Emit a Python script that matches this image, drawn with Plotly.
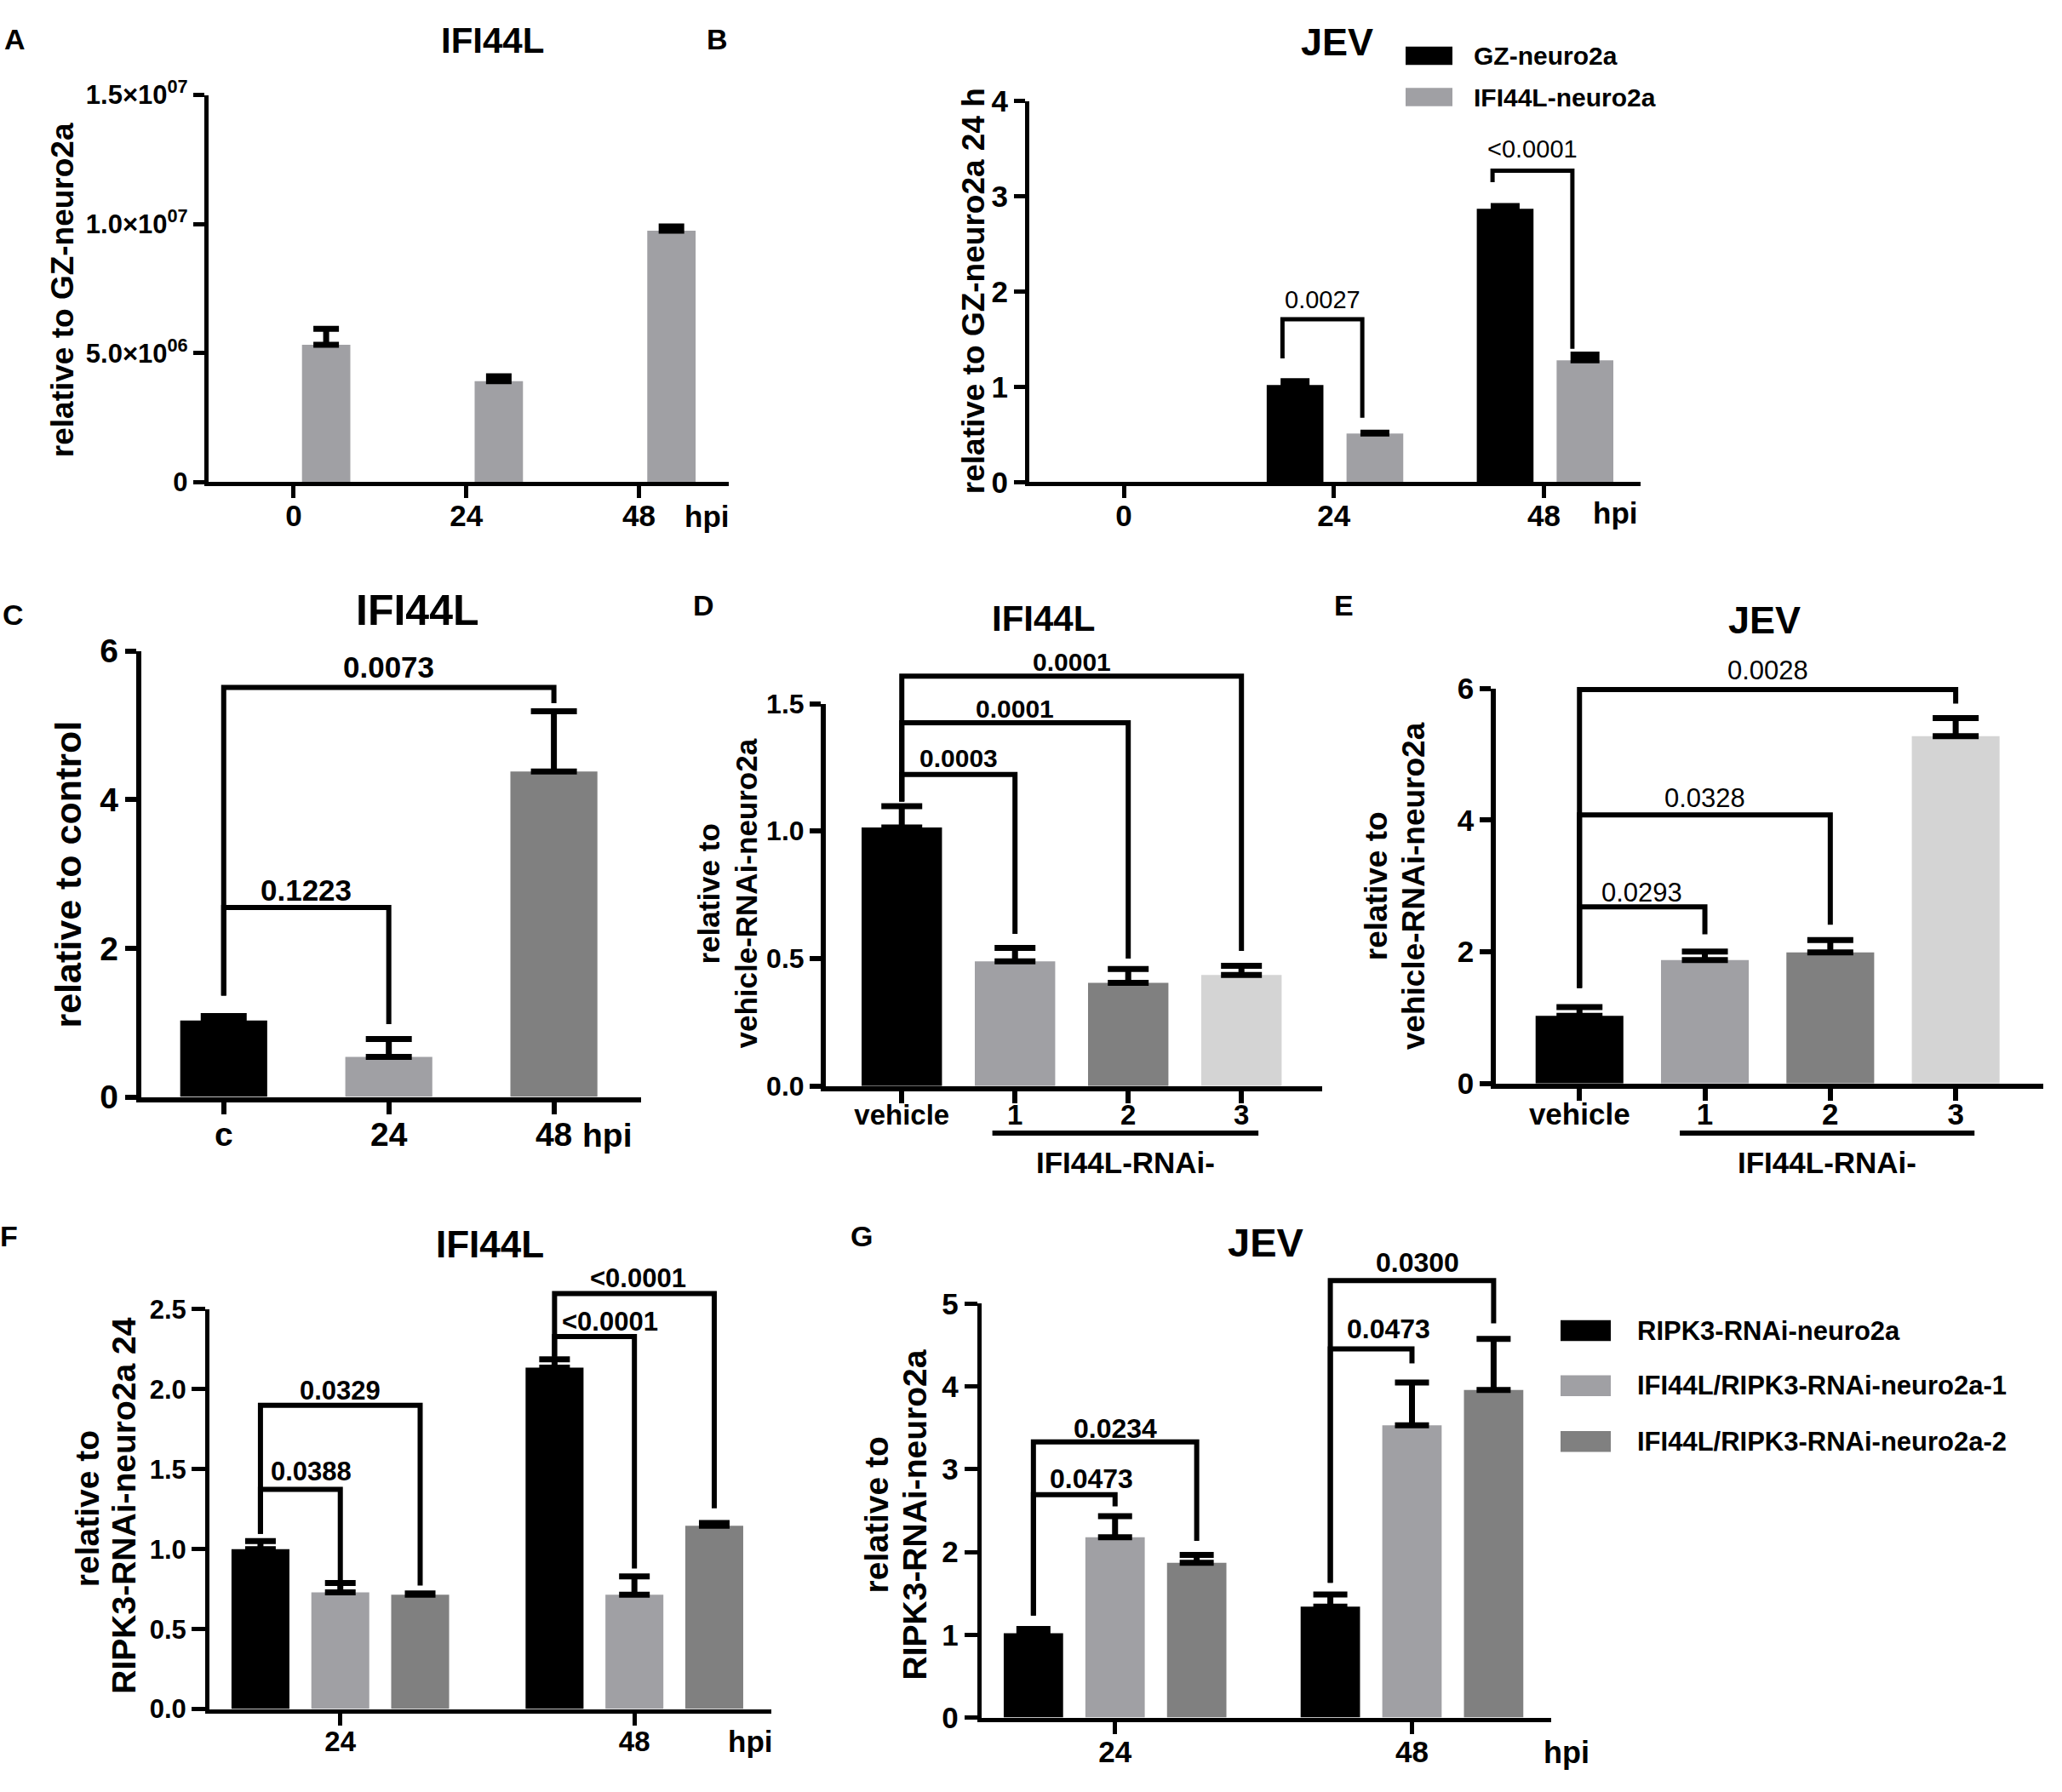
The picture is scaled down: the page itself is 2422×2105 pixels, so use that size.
import plotly.graph_objects as go

W, H = 2422, 2105
FONT = "Liberation Sans, Arial, sans-serif"

BLACK = "#000000"
GRAY = "#a0a0a4"
DARK = "#808080"
LIGHT = "#d4d4d4"

# ---------------- data ----------------
# A: IFI44L in IFI44L-neuro2a relative to GZ-neuro2a
a_hpi = ["0", "24", "48"]
a_ifi44l = [5.32e6, 3.91e6, 9.74e6]
a_ifi44l_sem = [0.62e6, 0.19e6, 0.17e6]
a_yticks = [0, 5e6, 1e7, 1.5e7]
a_yticklabels = ["0", "5.0×10<sup>06</sup>", "1.0×10<sup>07</sup>", "1.5×10<sup>07</sup>"]

# B: JEV, GZ vs IFI44L overexpression (no bars at 0 hpi)
b_hpi = ["0", "24", "48"]
b_names = ["GZ-neuro2a", "IFI44L-neuro2a"]
b_gz = [None, 1.02, 2.87]
b_gz_sem = [None, 0.04, 0.03]
b_ifi44l = [None, 0.51, 1.28]
b_ifi44l_sem = [None, 0.01, 0.06]
b_yticks = [0, 1, 2, 3, 4]
# significance: (category, series a, series b, bracket y, end a, end b, p value, text y)
b_sig = [(1, 0, 1, 1.71, 1.30, 0.675, "0.0027", 1.92),
         (2, 0, 1, 3.27, 3.15, 1.40, "<0.0001", 3.50)]

# C: IFI44L after JEV infection
c_groups = ["c", "24", "48"]
c_ifi44l = [1.03, 0.54, 4.38]
c_ifi44l_sem = [0.06, 0.24, 0.81]
c_yticks = [0, 2, 4, 6]
# significance: (bar a, bar b, bracket y, end a, end b, p value, text y)
c_sig = [(0, 1, 2.55, 1.365, 0.98, "0.1223", 2.78),
         (0, 2, 5.51, 1.365, 5.30, "0.0073", 5.79)]

# D: IFI44L knockdown
d_groups = ["vehicle", "1", "2", "3"]
d_ifi44l = [1.014, 0.489, 0.405, 0.436]
d_ifi44l_sem = [0.084, 0.053, 0.054, 0.036]
d_yticks = [0, 0.5, 1.0, 1.5]
d_yticklabels = ["0.0", "0.5", "1.0", "1.5"]
d_sig = [(0, 1, 1.222, 1.116, 0.597, "0.0003", 1.287),
         (0, 2, 1.425, 1.116, 0.50, "0.0001", 1.480),
         (0, 3, 1.608, 1.116, 0.53, "0.0001", 1.665)]

# E: JEV after IFI44L knockdown
e_groups = ["vehicle", "1", "2", "3"]
e_jev = [1.028, 1.876, 1.992, 5.274]
e_jev_sem = [0.134, 0.128, 0.186, 0.273]
e_yticks = [0, 2, 4, 6]
e_sig = [(0, 1, 2.683, 1.452, 2.265, "0.0293", 2.904),
         (0, 2, 4.077, 1.452, 2.41, "0.0328", 4.339),
         (0, 3, 5.982, 1.452, 5.767, "0.0028", 6.273)]

# F / G: RIPK3 knockdown background
fg_hpi = ["24", "48"]
fg_names = ["RIPK3-RNAi-neuro2a", "IFI44L/RIPK3-RNAi-neuro2a-1", "IFI44L/RIPK3-RNAi-neuro2a-2"]
f_values = [[1.00, 2.135], [0.73, 0.715], [0.715, 1.146]]
f_sem = [[0.05, 0.052], [0.058, 0.114], [0.008, 0.018]]
f_yticks = [0, 0.5, 1.0, 1.5, 2.0, 2.5]
f_yticklabels = ["0.0", "0.5", "1.0", "1.5", "2.0", "2.5"]
f_sig = [(0, 0, 1, 1.374, 1.096, 0.80, "0.0388", 1.484),
         (0, 0, 2, 1.900, 1.096, 0.772, "0.0329", 1.990),
         (1, 0, 1, 2.329, 2.203, 0.879, "<0.0001", 2.42),
         (1, 0, 2, 2.598, 2.203, 1.256, "<0.0001", 2.694)]
f_label_dx = [13, 0, 18, 4]

g_values = [[1.02, 1.341], [2.177, 3.531], [1.869, 3.958]]
g_sem = [[0.049, 0.145], [0.255, 0.515], [0.097, 0.615]]
g_yticks = [0, 1, 2, 3, 4, 5]
g_sig = [(0, 0, 1, 2.691, 1.231, 2.55, "0.0473", 2.88),
         (0, 0, 2, 3.329, 1.231, 2.133, "0.0234", 3.487),
         (1, 0, 1, 4.454, 1.627, 4.277, "0.0473", 4.696),
         (1, 0, 2, 5.277, 1.627, 4.76, "0.0300", 5.50)]
g_label_dx = [20, 0, 20, 7]

# ---------------- geometry (pixels of the 2422x2105 page) ----------------
GEOM = {
    "A": dict(n=1, left=244.8, right=856.0, base=556.0, ppu=(556.0 - 91.5) / 1.5e7, ytop=1.5e7,
              xr=(-0.494, 2.52), width=0.28, centers=[0.188], leg=0),
    "B": dict(n=2, left=1209.0, right=1926.6, base=556.0, ppu=(556.0 - 98.9) / 4, ytop=4,
              xr=(-0.45, 2.458), width=0.27, centers=[-0.185, 0.195], leg=-0.06),
    "C": dict(n=3, left=165.8, right=752.6, base=1293.6, ppu=(1293.6 - 758.7) / 6, ytop=6,
              xr=(-0.5, 2.526), width=0.527, centers=[0], leg=0),
    "D": dict(n=4, left=970.0, right=1552.6, base=1280.5, ppu=(1280.5 - 821.7) / 1.5, ytop=1.5,
              xr=(-0.671, 3.71), width=0.71, centers=[0], leg=0),
    "E": dict(n=5, left=1757.3, right=2399.5, base=1277.5, ppu=(1277.5 - 803.3) / 6, ytop=6,
              xr=(-0.665, 3.695), width=0.70, centers=[0], leg=0),
    "F": dict(n=6, left=246.0, right=905.8, base=2028.0, ppu=(2028.0 - 1548.3) / 2.5, ytop=2.5,
              xr=(-0.445, 1.465), width=0.197, centers=[-0.2715, 0, 0.2715], leg=0),
    "G": dict(n=7, left=1152.8, right=1822.4, base=2038.2, ppu=(2038.2 - 1541.5) / 5, ytop=5,
              xr=(-0.45, 1.47), width=0.20, centers=[-0.275, 0, 0.275], leg=0),
}


def xp(g, x):
    x0, x1 = g["xr"]
    return (g["left"] + (x - x0) / (x1 - x0) * (g["right"] - g["left"])) / W


def yp(g, y):
    return 1 - (g["base"] - y * g["ppu"]) / H


def px(x):
    return x / W


def py(y):
    return 1 - y / H


def bold(size):
    return dict(family=FONT, size=size, color="black", weight="bold")


def plain(size):
    return dict(family=FONT, size=size, color="black")


fig = go.Figure()
shapes = []
annotations = []


def ax_ids(g):
    s = "" if g["n"] == 1 else str(g["n"])
    return "x" + s, "y" + s


def errbar(sem, cap, thick):
    return dict(type="data", array=sem, arrayminus=[0] * len(sem), symmetric=False,
                color="black", thickness=thick, width=cap)


def add_bar(g, cats, vals, sem, series, color, cap, thick=7, name=None):
    xa, ya = ax_ids(g)
    fig.add_trace(go.Bar(
        x=cats, y=vals, name=name, xaxis=xa, yaxis=ya,
        width=g["width"], offset=g["centers"][series] - g["width"] / 2,
        marker=dict(color=color, line=dict(width=0)),
        error_y=errbar(sem, cap, thick), showlegend=False,
    ))


def setup_axes(g, cats, yticks, yticktext, xsize, ysize, lw=5, standoff=-9, yticklen=13):
    xa, ya = ax_ids(g)
    common = dict(showline=True, linewidth=lw, linecolor="black", ticks="outside",
                  tickwidth=lw, tickcolor="black", showgrid=False, zeroline=False)
    fig.layout["xaxis" + xa[1:]] = dict(
        domain=[g["left"] / W, g["right"] / W], anchor=ya, type="category",
        categoryorder="array", categoryarray=cats, range=list(g["xr"]),
        ticklen=14, ticklabelstandoff=standoff, tickfont=bold(xsize), **common)
    fig.layout["yaxis" + ya[1:]] = dict(
        domain=[1 - g["base"] / H, 1 - (g["base"] - g["ytop"] * g["ppu"]) / H],
        anchor=xa, range=[0, g["ytop"]], tickvals=yticks, ticktext=yticktext,
        ticklen=yticklen, tickfont=bold(ysize), **common)


def add_brackets(g, items, font, dx=None, lw=6):
    # items: (category a, series a, category b, series b, bracket y, end a, end b, label, label y)
    for k, (ca, sa, cb, sb, top, ea, eb, label, ty) in enumerate(items):
        x1 = xp(g, ca + g["centers"][sa] + g["leg"])
        x2 = xp(g, cb + g["centers"][sb] + g["leg"])
        path = "M {:.5f},{:.5f} L {:.5f},{:.5f} L {:.5f},{:.5f} L {:.5f},{:.5f}".format(
            x1, yp(g, ea), x1, yp(g, top), x2, yp(g, top), x2, yp(g, eb))
        shapes.append(dict(type="path", xref="paper", yref="paper", path=path,
                           line=dict(color="black", width=lw)))
        annotations.append(dict(xref="paper", yref="paper", x=(x1 + x2) / 2, y=yp(g, ty),
                                xshift=dx[k] if dx else 0,
                                text=label, showarrow=False, font=font,
                                xanchor="center", yanchor="middle"))


def grouped(sig):
    return [(c, sa, c, sb, t, ea, eb, s, ty) for c, sa, sb, t, ea, eb, s, ty in sig]


def single(sig):
    return [(a, 0, b, 0, t, ea, eb, s, ty) for a, b, t, ea, eb, s, ty in sig]


def text(x, y, s, font, angle=0, xanchor="center"):
    annotations.append(dict(xref="paper", yref="paper", x=px(x), y=py(y), text=s,
                            showarrow=False, font=font, textangle=angle,
                            xanchor=xanchor, yanchor="middle"))


# ---------------- panel A ----------------
gA = GEOM["A"]
add_bar(gA, a_hpi, a_ifi44l, a_ifi44l_sem, 0, GRAY, 15)
setup_axes(gA, a_hpi, a_yticks, a_yticklabels, 35, 31)
text(17, 25, "A", bold(34))
text(578, 26, "IFI44L", bold(42))
text(830, 597, "hpi", bold(35))
text(73, 326, "relative to GZ-neuro2a", bold(37), angle=-90)

# ---------------- panel B ----------------
gB = GEOM["B"]
add_bar(gB, b_hpi, b_gz, b_gz_sem, 0, BLACK, 17, name=b_names[0])
add_bar(gB, b_hpi, b_ifi44l, b_ifi44l_sem, 1, GRAY, 17, name=b_names[1])
setup_axes(gB, b_hpi, b_yticks, [str(v) for v in b_yticks], 35, 35)
add_brackets(gB, grouped(b_sig), plain(29), lw=5)
text(842, 25, "B", bold(34))
text(1570, 28, "JEV", bold(45))
text(1897, 593, "hpi", bold(35))
text(1143, 327, "relative to GZ-neuro2a 24 h", bold(37), angle=-90)
for i, (nm, col) in enumerate(zip(b_names, [BLACK, GRAY])):
    yc = [44.5, 94.0][i]
    shapes.append(dict(type="rect", xref="paper", yref="paper", x0=px(1651), x1=px(1706),
                       y0=py(yc + 11), y1=py(yc - 11), fillcolor=col, line=dict(width=0)))
    text(1728.6, yc, nm, bold(30), xanchor="left")

# ---------------- panel C ----------------
gC = GEOM["C"]
add_bar(gC, c_groups, c_ifi44l, c_ifi44l_sem, 0, [BLACK, GRAY, DARK], 27)
setup_axes(gC, c_groups, c_yticks, [str(v) for v in c_yticks], 39, 39, lw=6)
add_brackets(gC, single(c_sig), bold(35))
text(15, 715, "C", bold(34))
text(490, 710, "IFI44L", bold(50))
text(713, 1339, "hpi", bold(39))
text(80, 1027, "relative to control", bold(43), angle=-90)

# ---------------- panel D ----------------
gD = GEOM["D"]
add_bar(gD, d_groups, d_ifi44l, d_ifi44l_sem, 0, [BLACK, GRAY, DARK, LIGHT], 24)
setup_axes(gD, d_groups, d_yticks, d_yticklabels, 33, 32, lw=6, standoff=-14)
add_brackets(gD, single(d_sig), bold(30))
text(826, 704, "D", bold(34))
text(1225, 720, "IFI44L", bold(42))
text(832.5, 1050, "relative to", bold(35), angle=-90)
text(876.5, 1050, "vehicle-RNAi-neuro2a", bold(35), angle=-90)

# ---------------- panel E ----------------
gE = GEOM["E"]
add_bar(gE, e_groups, e_jev, e_jev_sem, 0, [BLACK, GRAY, DARK, LIGHT], 27)
setup_axes(gE, e_groups, e_yticks, [str(v) for v in e_yticks], 35, 35, lw=6, standoff=-14)
add_brackets(gE, single(e_sig), plain(31))
text(1578, 704, "E", bold(34))
text(2072, 722, "JEV", bold(45))
text(1616, 1041, "relative to", bold(37), angle=-90)
text(1660, 1041, "vehicle-RNAi-neuro2a", bold(37), angle=-90)

# group underline for knockdown lines (D and E)
for g in (gD, gE):
    x1, x2 = xp(g, 0.8), xp(g, 3.15)
    shapes.append(dict(type="line", xref="paper", yref="paper", x0=x1, x1=x2,
                       y0=py(1337), y1=py(1337), line=dict(color="black", width=6)))
    annotations.append(dict(xref="paper", yref="paper", x=(x1 + x2) / 2, y=py(1372),
                            text="IFI44L-RNAi-", showarrow=False, font=bold(35),
                            xanchor="center", yanchor="middle"))

# ---------------- panel F ----------------
gF = GEOM["F"]
for s, col in enumerate([BLACK, GRAY, DARK]):
    add_bar(gF, fg_hpi, f_values[s], f_sem[s], s, col, 18, name=fg_names[s])
setup_axes(gF, fg_hpi, f_yticks, f_yticklabels, 33, 31, yticklen=16)
add_brackets(gF, grouped(f_sig), bold(31), dx=f_label_dx)
text(10, 1461, "F", bold(34))
text(575, 1470, "IFI44L", bold(44))
text(881, 2067, "hpi", bold(35))
text(102.5, 1788, "relative to", bold(39), angle=-90)
text(146, 1784, "RIPK3-RNAi-neuro2a 24", bold(39), angle=-90)

# ---------------- panel G ----------------
gG = GEOM["G"]
for s, col in enumerate([BLACK, GRAY, DARK]):
    add_bar(gG, fg_hpi, g_values[s], g_sem[s], s, col, 20, name=fg_names[s])
setup_axes(gG, fg_hpi, g_yticks, [str(v) for v in g_yticks], 35, 35, yticklen=15)
add_brackets(gG, grouped(g_sig), bold(32), dx=g_label_dx)
text(1012, 1461, "G", bold(34))
text(1486, 1468, "JEV", bold(47))
text(1840, 2080, "hpi", bold(36))
text(1029, 1795, "relative to", bold(39), angle=-90)
text(1074, 1795, "RIPK3-RNAi-neuro2a", bold(39), angle=-90)
for i, (nm, col) in enumerate(zip(fg_names, [BLACK, GRAY, DARK])):
    yc = [1574, 1640, 1707][i]
    shapes.append(dict(type="rect", xref="paper", yref="paper", x0=px(1833), x1=px(1892),
                       y0=py(yc + 12.5), y1=py(yc - 12.5), fillcolor=col, line=dict(width=0)))
    text(1921, yc, nm, bold(31), xanchor="left")

fig.update_layout(
    width=W, height=H,
    margin=dict(l=0, r=0, t=0, b=0),
    paper_bgcolor="white", plot_bgcolor="white",
    barmode="overlay", showlegend=False,
    font=dict(family=FONT, color="black"),
    shapes=shapes, annotations=annotations,
)

# page body margin would push the 2422x2105 figure off by 8px
fig.write_html("out.html", config={"displayModeBar": False},
               post_script="document.body.style.margin = '0';")
